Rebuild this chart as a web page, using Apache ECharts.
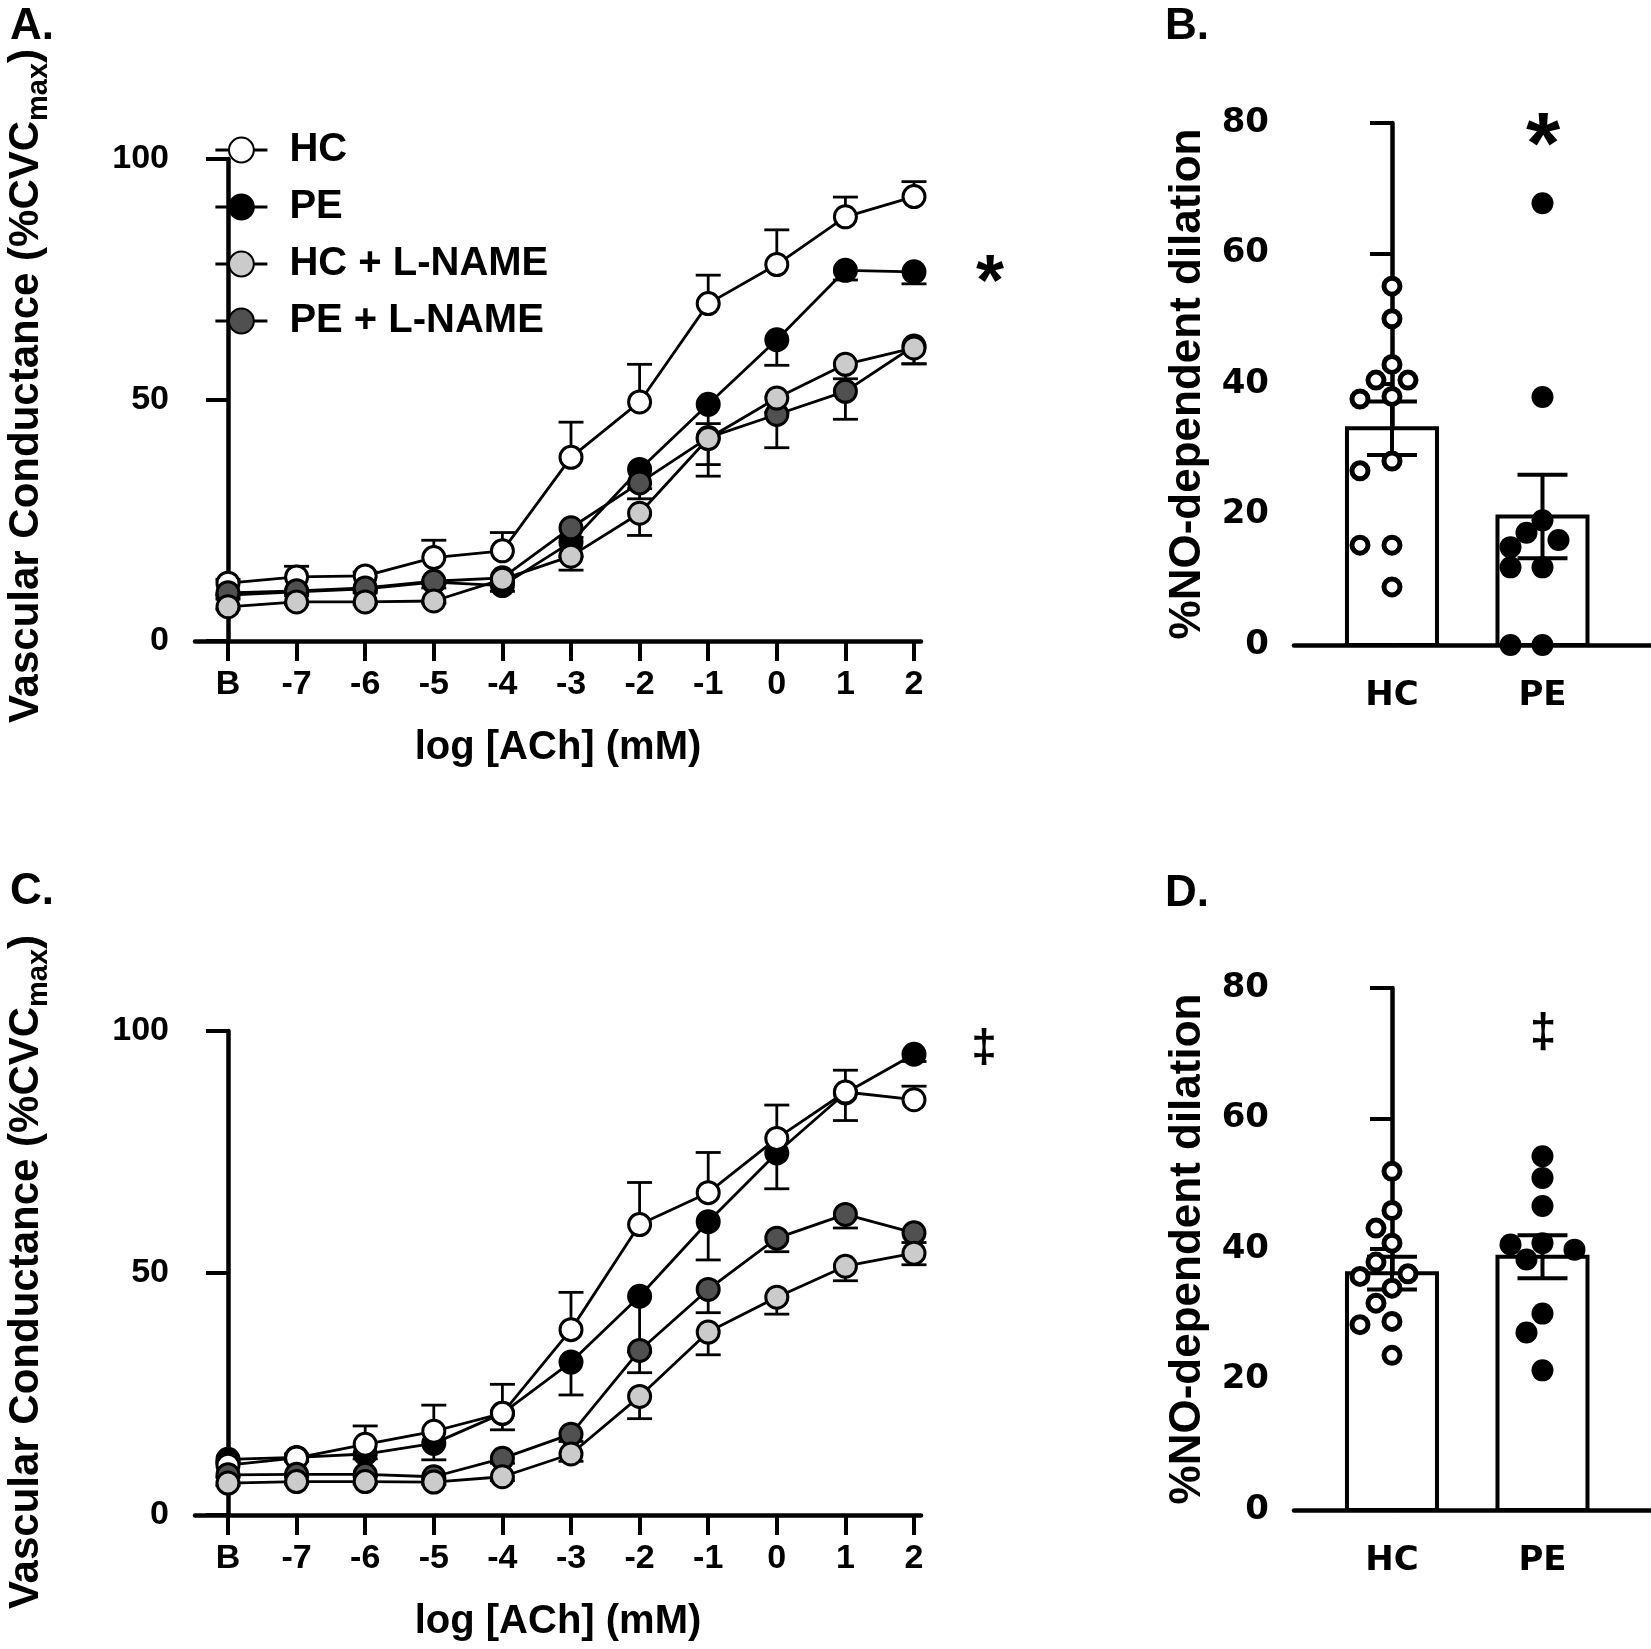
<!DOCTYPE html>
<html><head><meta charset="utf-8">
<script src="https://cdn.jsdelivr.net/npm/echarts@6/dist/echarts.min.js"></script>
<style>html,body{margin:0;padding:0;background:#fff}#c{width:1651px;height:1649px}</style>
</head><body><div id="c"></div>
<script>
// ================= DATA =================
const doseLabels = ['B','-7','-6','-5','-4','-3','-2','-1','0','1','2'];
const groupNames = ['HC','PE','HC + L-NAME','PE + L-NAME'];
const barCats = ['HC','PE'];

// Panel A – dose response (mean, SEM)
const A_HC      = [12.0, 13.3, 13.5, 17.3, 18.7, 38.1, 49.6, 70.0, 78.1, 88.0, 92.2];
const A_HC_sem  = [0.8, 2.2, 0.8, 3.6, 3.8, 7.3, 7.8, 5.9, 7.2, 4.1, 3.1];
const A_PE      = [9.5, 10.2, 10.8, 12.2, 11.5, 20.5, 35.6, 49.1, 62.5, 76.9, 76.6];
const A_PE_sem  = [0.8, 0.8, 0.8, 1.2, 1.2, 3.0, 4.0, 4.0, 5.3, 2.0, 2.5];
const A_HCL     = [7.1, 8.1, 8.1, 8.3, 12.8, 17.6, 26.5, 42.0, 50.4, 57.4, 60.8];
const A_HCL_sem = [0.5, 0.5, 0.5, 0.5, 1.0, 2.9, 4.6, 5.4, 3.0, 3.0, 3.3];
const A_PEL     = [10.0, 10.4, 11.0, 12.4, 13.1, 23.5, 32.8, 42.2, 47.0, 51.8, 61.2];
const A_PEL_sem = [0.5, 0.5, 0.5, 0.5, 1.0, 2.0, 3.3, 8.0, 6.9, 5.8, 3.7];

// Panel C – dose response (mean, SEM)
const C_HC      = [10.3, 11.8, 14.6, 17.3, 21.0, 38.3, 60.0, 66.6, 77.8, 87.4, 85.8];
const C_HC_sem  = [0.8, 0.8, 3.8, 5.4, 6.0, 7.7, 8.7, 8.3, 6.9, 4.5, 2.8];
const C_PE      = [11.5, 11.9, 12.6, 14.8, 21.0, 31.6, 45.2, 60.6, 74.8, 87.2, 95.2];
const C_PE_sem  = [0.8, 0.8, 1.0, 3.4, 3.4, 6.8, 11.5, 7.9, 7.4, 5.7, 1.5];
const C_HCL     = [6.6, 6.9, 6.9, 6.8, 7.9, 12.6, 24.5, 37.8, 45.0, 51.4, 54.1];
const C_HCL_sem = [0.5, 0.5, 0.5, 0.5, 0.8, 1.5, 4.6, 4.7, 3.5, 3.0, 2.4];
const C_PEL     = [8.3, 8.4, 8.4, 7.9, 11.7, 16.7, 34.0, 46.6, 57.2, 62.1, 58.3];
const C_PEL_sem = [0.5, 0.5, 0.5, 0.5, 1.0, 1.5, 4.6, 4.8, 2.8, 2.8, 2.0];

// Panel B – %NO-dependent dilation (individual points, mean, SEM)
const B_HC_pts = [55.0, 50.0, 43.0, 40.6, 40.6, 37.7, 38.1, 28.2, 26.7, 15.3, 15.3, 8.9];
const B_PE_pts = [67.7, 38.0, 19.1, 17.2, 15.0, 16.1, 11.9, 11.9, 0, 0];
const B_mean = [33.2, 19.7];
const B_sem  = [4.1, 6.4];

// Panel D
const D_HC_pts = [51.9, 45.9, 43.2, 40.9, 38.0, 36.2, 35.8, 34.0, 31.7, 28.9, 28.4, 23.7];
const D_PE_pts = [54.2, 50.9, 46.6, 40.9, 40.7, 39.9, 38.4, 30.1, 27.2, 21.4];
const D_mean = [36.3, 38.8];
const D_sem  = [2.5, 3.3];

// ================= LAYOUT / STYLE =================
const FONT = '"Liberation Sans", Arial, sans-serif';
const FONT_WIDE = '"DejaVu Sans", "Liberation Sans", sans-serif';
const L = {
  A: {left:195, top:159, width:726, height:482, xmin:-0.481, xmax:10.102},
  C: {left:195, top:1031, width:726, height:484, xmin:-0.481, xmax:10.102},
  B: {left:1294, top:123, width:357, height:522, xmin:-0.651, xmax:1.721},
  D: {left:1294, top:988, width:357, height:522, xmin:-0.651, xmax:1.721}
};
const fills = {'HC':'#ffffff','PE':'#000000','HC + L-NAME':'#cbcbcb','PE + L-NAME':'#505050'};

const chart = echarts.init(document.getElementById('c'), null, {renderer:'canvas'});

function gridOf(k){ const g=L[k]; return {left:g.left, top:g.top, width:g.width, height:g.height, containLabel:false}; }

function doseXAxis(k, gi){
  const g = L[k];
  return {type:'value', gridIndex:gi, min:g.xmin, max:g.xmax,
    axisLine:{show:true, onZero:false, lineStyle:{color:'#000', width:4.5}},
    axisTick:{show:true, customValues:doseLabels.map((d,i)=>i), length:20, lineStyle:{color:'#000', width:4}},
    axisLabel:{show:true, customValues:doseLabels.map((d,i)=>i), formatter:(v)=>doseLabels[Math.round(v)],
      fontSize:34, fontWeight:'bold', color:'#000', fontFamily:FONT, margin:27},
    splitLine:{show:false}};
}
function doseYAxis(gi){
  return {type:'value', gridIndex:gi, min:0, max:100, interval:50,
    axisLine:{show:true, lineStyle:{color:'#000', width:4.5}},
    axisTick:{show:true, length:22, lineStyle:{color:'#000', width:4}},
    axisLabel:{fontSize:34, fontWeight:'bold', color:'#000', fontFamily:FONT, margin:26},
    splitLine:{show:false}};
}
function barXAxis(k, gi){
  const g = L[k];
  return {type:'value', gridIndex:gi, min:g.xmin, max:g.xmax,
    axisLine:{show:true, onZero:false, lineStyle:{color:'#000', width:4.5}},
    axisTick:{show:false},
    axisLabel:{show:true, customValues:[0,1], formatter:(v)=>barCats[Math.round(v)],
      fontSize:34, fontWeight:'bold', color:'#000', fontFamily:FONT_WIDE, margin:34},
    splitLine:{show:false}};
}
function barYAxis(gi){
  return {type:'value', gridIndex:gi, min:0, max:80, interval:20,
    axisLine:{show:true, lineStyle:{color:'#000', width:4.5}},
    axisTick:{show:true, length:22, lineStyle:{color:'#000', width:4}},
    axisLabel:{fontSize:34, fontWeight:'bold', color:'#000', fontFamily:FONT_WIDE, margin:25},
    splitLine:{show:false}};
}

function errSeries(ai, vals, sems, dir, capW, lw){
  return {type:'custom', xAxisIndex:ai, yAxisIndex:ai, silent:true, animation:false,
    data: vals.map((v,i)=>[i, v, v + dir*sems[i]]),
    renderItem(params, api){
      const p0 = api.coord([api.value(0), api.value(1)]);
      const p1 = api.coord([api.value(0), api.value(2)]);
      return {type:'group', children:[
        {type:'line', shape:{x1:p0[0], y1:p0[1], x2:p1[0], y2:p1[1]}, style:{stroke:'#000', lineWidth:lw}},
        {type:'line', shape:{x1:p1[0]-capW/2, y1:p1[1], x2:p1[0]+capW/2, y2:p1[1]}, style:{stroke:'#000', lineWidth:lw}}
      ]};
    }};
}
function lineSeries(ai, name, vals){
  return {type:'line', name, xAxisIndex:ai, yAxisIndex:ai, animation:false,
    data: vals.map((v,i)=>[i, v]), symbol:'circle', symbolSize:22, showSymbol:true,
    lineStyle:{color:'#000', width:2.8}, itemStyle:{color:fills[name], borderColor:'#000', borderWidth:3, opacity:1},
    emphasis:{disabled:true}, z:2};
}
function doseGroup(ai, sets){
  // sets in drawing order: [name, vals, sems, direction of the drawn error bar]
  const out = [];
  sets.forEach(s => { out.push(errSeries(ai, s[1], s[2], s[3], 25, 2.8)); out.push(lineSeries(ai, s[0], s[1])); });
  return out;
}

// beeswarm placement of dots (layout only)
function swarm(vals, cat, k, D, step){
  const g = L[k];
  const pxX = g.width/(g.xmax-g.xmin), pxY = g.height/80;
  const order = vals.map((v,i)=>i).sort((a,b)=>vals[b]-vals[a]);
  const cands = [0]; for(let j=1;j<=4;j++){ cands.push(-j*step, j*step); }
  const placed = [], out = [];
  order.forEach(i=>{
    const y = vals[i]*pxY; let off = cands[cands.length-1];
    for(const c of cands){ if(placed.every(p=>Math.hypot(p[0]-c, p[1]-y) >= D)){ off = c; break; } }
    placed.push([off, y]); out.push([cat + off/pxX, vals[i]]);
  });
  return out;
}
function barPanel(ai, k, mean, sem, hcPts, pePts){
  const bars = {type:'custom', xAxisIndex:ai, yAxisIndex:ai, silent:true, animation:false,
    data: mean.map((m,i)=>[i, m]),
    renderItem(params, api){
      const top = api.coord([api.value(0), api.value(1)]);
      const bot = api.coord([api.value(0), 0]);
      const w = 90;
      return {type:'rect', shape:{x:top[0]-w/2, y:top[1], width:w, height:bot[1]-top[1]},
        style:{fill:'#fff', stroke:'#000', lineWidth:4}};
    }};
  const errs = {type:'custom', xAxisIndex:ai, yAxisIndex:ai, silent:true, animation:false,
    data: mean.map((m,i)=>[i, m-sem[i], m+sem[i]]),
    renderItem(params, api){
      const lo = api.coord([api.value(0), api.value(1)]);
      const hi = api.coord([api.value(0), api.value(2)]);
      const cw = 50;
      const st = {stroke:'#000', lineWidth:4};
      return {type:'group', children:[
        {type:'line', shape:{x1:lo[0], y1:lo[1], x2:hi[0], y2:hi[1]}, style:st},
        {type:'line', shape:{x1:hi[0]-cw/2, y1:hi[1], x2:hi[0]+cw/2, y2:hi[1]}, style:st},
        {type:'line', shape:{x1:lo[0]-cw/2, y1:lo[1], x2:lo[0]+cw/2, y2:lo[1]}, style:st}
      ]};
    }};
  const hc = {type:'scatter', xAxisIndex:ai, yAxisIndex:ai, silent:true, animation:false,
    data: swarm(hcPts, 0, k, 20, 16), symbol:'circle', symbolSize:16,
    itemStyle:{color:'#fff', borderColor:'#000', borderWidth:5, opacity:1}, emphasis:{disabled:true}, z:5};
  const pe = {type:'scatter', xAxisIndex:ai, yAxisIndex:ai, silent:true, animation:false,
    data: swarm(pePts, 1, k, 20, 16), symbol:'circle', symbolSize:22,
    itemStyle:{color:'#000', borderWidth:0, opacity:1}, emphasis:{disabled:true}, z:5};
  return [bars, errs, hc, pe];
}

const series = [].concat(
  doseGroup(0, [['PE',A_PE,A_PE_sem,-1],['HC',A_HC,A_HC_sem,1],['PE + L-NAME',A_PEL,A_PEL_sem,-1],['HC + L-NAME',A_HCL,A_HCL_sem,-1]]),
  barPanel(1, 'B', B_mean, B_sem, B_HC_pts, B_PE_pts),
  doseGroup(2, [['PE',C_PE,C_PE_sem,-1],['HC',C_HC,C_HC_sem,1],['PE + L-NAME',C_PEL,C_PEL_sem,-1],['HC + L-NAME',C_HCL,C_HCL_sem,-1]]),
  barPanel(3, 'D', D_mean, D_sem, D_HC_pts, D_PE_pts)
);

function txt(text, x, y, size, opts){
  return Object.assign({type:'text', x, y, silent:true,
    style:{text, font:'bold '+size+'px '+FONT, fill:'#000', textAlign:'center', textVerticalAlign:'middle'}}, opts||{});
}
function yTitleRich(x, y){
  return {type:'text', x, y, rotation:Math.PI/2, silent:true,
    style:{text:'{a|Vascular Conductance (%CVC}{s|max}{a|)}', textAlign:'center', textVerticalAlign:'middle',
      rich:{a:{font:'bold 42px '+FONT, fill:'#000', lineHeight:48, verticalAlign:'bottom'},
            s:{font:'bold 29px '+FONT, fill:'#000', lineHeight:48, verticalAlign:'bottom', padding:[0,0,-6,0]}}}};
}
function panelLabel(t, x, y){
  return {type:'text', x, y, silent:true, style:{text:t, font:'bold 44px '+FONT, fill:'#000', textAlign:'left', textVerticalAlign:'middle'}};
}

const graphic = [
  panelLabel('A.', 10, 27), panelLabel('B.', 1165, 27), panelLabel('C.', 10, 892), panelLabel('D.', 1165, 894),
  yTitleRich(23, 386),
  yTitleRich(23, 1272),
  txt('%NO-dependent dilation', 1188, 384, 44, {rotation:Math.PI/2}),
  txt('%NO-dependent dilation', 1188, 1249, 44, {rotation:Math.PI/2}),
  txt('log [ACh] (mM)', 558, 748, 40),
  txt('log [ACh] (mM)', 558, 1622, 40),
  txt('*', 990, 285, 72),
  txt('*', 1543, 149, 88),
  txt('\u2021', 984, 1049, 46),
  txt('\u2021', 1543, 1034, 48)
];

chart.setOption({
  animation:false,
  backgroundColor:'#fff',
  textStyle:{fontFamily:FONT},
  grid:[gridOf('A'), gridOf('B'), gridOf('C'), gridOf('D')],
  xAxis:[doseXAxis('A',0), barXAxis('B',1), doseXAxis('C',2), barXAxis('D',3)],
  yAxis:[doseYAxis(0), barYAxis(1), doseYAxis(2), barYAxis(3)],
  legend:{data:groupNames, orient:'vertical', left:209, top:125, itemWidth:52, itemHeight:31, itemGap:17,
    selectedMode:false, textStyle:{fontSize:40, fontWeight:'bold', color:'#000', fontFamily:FONT, padding:[0,0,0,17], lineHeight:40},
    lineStyle:{width:2.8}},
  series,
  graphic
});
</script></body></html>
